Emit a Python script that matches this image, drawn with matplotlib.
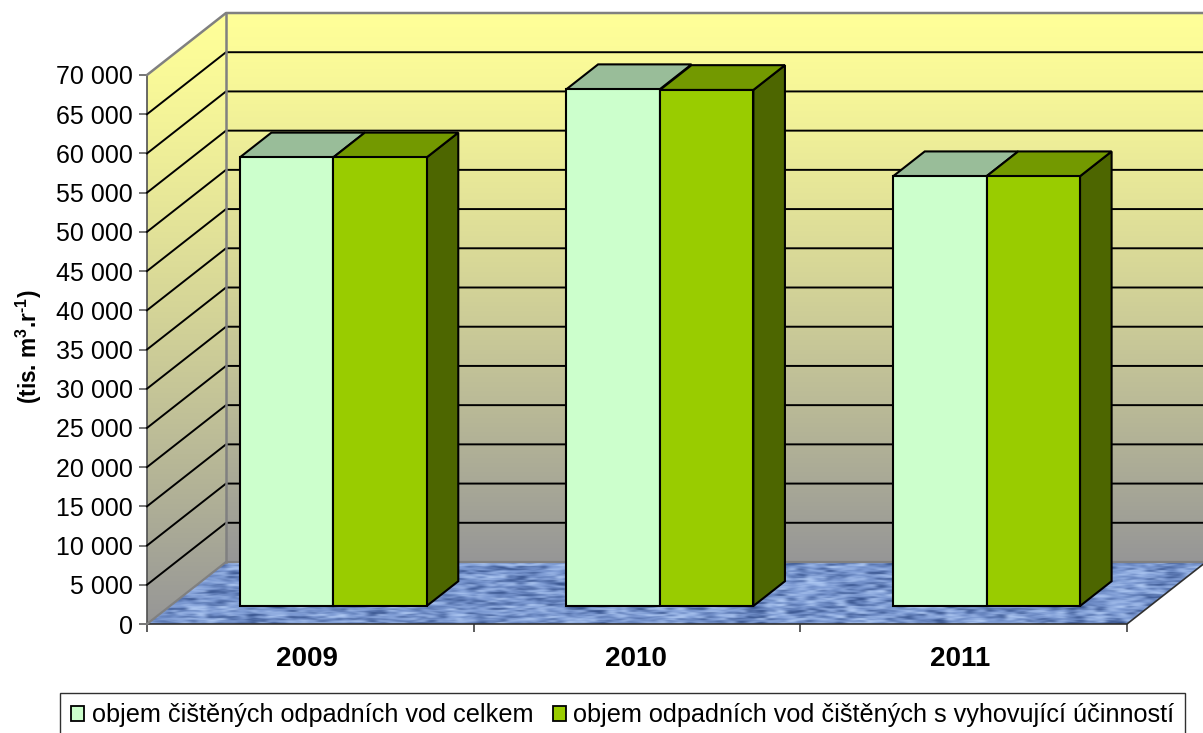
#!/usr/bin/env python
# coding: utf-8
import numpy as np
import matplotlib
matplotlib.use('Agg')
import matplotlib.pyplot as plt
from matplotlib.patches import Polygon, Patch

plt.rcParams['font.family'] = ['Liberation Sans', 'DejaVu Sans']
plt.rcParams['mathtext.fontset'] = 'custom'
plt.rcParams['mathtext.rm'] = 'Liberation Sans:bold'
plt.rcParams['mathtext.bf'] = 'Liberation Sans:bold'

years = ['2009', '2010', '2011']
total = [57200, 65900, 54800]
compliant = [57200, 65800, 54800]
y_ticks = list(range(0, 70001, 5000))
series_names = ['objem čištěných odpadních vod celkem',
                'objem odpadních vod čištěných s vyhovující účinností']

W, H = 1203, 733
DX = 79 / 980 * 3      # depth of the whole box in category units
DY = 62 / 549 * 70000  # depth of the whole box in value units
BAR_W = 0.286
GAP = (1 - 2 * BAR_W) / 2
D0, D1 = 0.29, 0.69    # front and back of the bars, as part of the depth


def pr(x, y, d=0.0):
    return (x + d * DX, y + d * DY)


def face(ax, pts, color, edge='black', lw=1.5, z=5):
    p = Polygon(pts, closed=True, facecolor=color, edgecolor=edge, lw=lw,
                clip_on=False, zorder=z, joinstyle='miter')
    ax.add_patch(p)
    return p


def clip_image(ax, im, pts):
    clip = Polygon(pts, closed=True, transform=ax.transData, fill=False, lw=0)
    ax.add_patch(clip)
    im.set_clip_box(ax.figure.bbox)
    im.set_clip_path(clip)


def gradient(ax, clip_pts, y_bot, y_top):
    t = np.linspace(0, 1, 256)[:, None] ** 1.25
    top = np.array([255, 255, 153]) / 255
    bot = np.array([150, 150, 150]) / 255
    img = (top + (bot - top) * t)[:, None, :]
    x0 = min(p[0] for p in clip_pts)
    x1 = max(p[0] for p in clip_pts)
    im = ax.imshow(img, extent=(x0, x1, y_bot, y_top), aspect='auto', zorder=1,
                   interpolation='bilinear')
    clip_image(ax, im, clip_pts)


def blotches(n_y, n_x, seed):
    # hashed cells, slanted a bit so the blotches lean like the fabric in the floor
    jj, ii = np.mgrid[0:n_y, 0:n_x]
    ii = ii + jj // 2
    h = np.sin(ii * 12.9898 + jj * 78.233 + seed) * 43758.5453
    return h - np.floor(h) - 0.5


def floor_texture():
    fine = blotches(62, 212, 0.0)
    mid = np.kron(blotches(31, 106, 3.1), np.ones((2, 2)))
    big = np.kron(blotches(16, 54, 7.7), np.ones((4, 4)))[:62, :212]
    v = np.clip(0.9 * fine + 1.1 * mid + 0.9 * big, -1, 1)[:, :, None]
    base = np.array([122, 152, 210]) / 255
    dark = np.array([52, 80, 138]) / 255
    light = np.array([178, 204, 245]) / 255
    return np.where(v < 0, base + (dark - base) * -v, base + (light - base) * v)


fig = plt.figure(figsize=(W / 100, H / 100), dpi=100)
ax = fig.add_axes([147 / W, (H - 624) / H, 980 / W, 549 / H])

# walls
back = [pr(0, 0, 1), pr(3, 0, 1), pr(3, 70000, 1), pr(0, 70000, 1)]
side = [pr(0, 0), pr(0, 0, 1), pr(0, 70000, 1), pr(0, 70000)]
gradient(ax, back, DY, 70000 + DY)
gradient(ax, side, 0, 70000 + DY)

# floor
floor = [pr(0, 0), pr(3, 0), pr(3, 0, 1), pr(0, 0, 1)]
im = ax.imshow(floor_texture(), extent=(0, 3 + DX, 0, DY), aspect='auto', zorder=2,
               interpolation='bicubic')
clip_image(ax, im, floor)
ax.plot(*zip(pr(0, 0), pr(3, 0), pr(3, 0, 1)), color='#303030', lw=1.2, zorder=3, clip_on=False)
ax.plot(*zip(pr(0, 0), pr(0, 0, 1), pr(3, 0, 1)), color='#808080', lw=1.6, zorder=3, clip_on=False)

# grid lines on both walls
for v in y_ticks[1:-1]:
    ax.plot(*zip(pr(0, v), pr(0, v, 1), pr(3, v, 1)), color='black', lw=1.4, zorder=3,
            clip_on=False)

# wall outline
ax.plot(*zip(pr(0, 70000), pr(0, 70000, 1), pr(3, 70000, 1)), color='#808080', lw=1.8,
        zorder=3, clip_on=False)
ax.plot(*zip(pr(0, 0, 1), pr(0, 70000, 1)), color='#808080', lw=1.8, zorder=3, clip_on=False)

# bars
for i in range(len(years)):
    x0 = i + GAP
    x1 = x0 + BAR_W
    x2 = x1 + BAR_W
    t1, t2 = total[i], compliant[i]
    # side of the dark bar first, then the tops and the fronts
    face(ax, [pr(x2, 0, D0), pr(x2, 0, D1), pr(x2, t2, D1), pr(x2, t2, D0)], '#4D6600')
    face(ax, [pr(x0, t1, D0), pr(x1, t1, D0), pr(x1, t1, D1), pr(x0, t1, D1)], '#99BD99')
    face(ax, [pr(x1, t2, D0), pr(x2, t2, D0), pr(x2, t2, D1), pr(x1, t2, D1)], '#739900')
    face(ax, [pr(x0, 0, D0), pr(x1, 0, D0), pr(x1, t1, D0), pr(x0, t1, D0)], '#CCFFCC')
    face(ax, [pr(x1, 0, D0), pr(x2, 0, D0), pr(x2, t2, D0), pr(x1, t2, D0)], '#99CC00')

ax.set_xlim(0, 3)
ax.set_ylim(0, 70000)
for s in ['top', 'right', 'bottom']:
    ax.spines[s].set_visible(False)
ax.spines['left'].set_color('#505050')
ax.spines['left'].set_linewidth(1.2)
ax.patch.set_visible(False)

ax.set_yticks(y_ticks)
ax.set_yticklabels([f'{v:,}'.replace(',', ' ') for v in y_ticks], fontsize=18)
ax.tick_params(axis='y', length=6, width=1.1, color='#505050', pad=4)
ax.set_xticks([0, 1, 2, 3])
ax.set_xticklabels([])
ax.tick_params(axis='x', which='major', length=6, width=1.1, color='#303030')
ax.set_xticks([0.49, 1.497, 2.49], minor=True)
ax.set_xticklabels(years, minor=True, fontsize=20, fontweight='bold')
ax.tick_params(axis='x', which='minor', length=0, pad=16)

fig.text(29 / W, 1 - 347 / H, r'(tis. m$^{\mathbf{3}}$.r$^{\text{-1}}$)', rotation=90,
         ha='center', va='center', fontsize=16.3, fontweight='bold')

handles = [Patch(facecolor='#CCFFCC', edgecolor='black', lw=1.3),
           Patch(facecolor='#99CC00', edgecolor='black', lw=1.3)]
leg = fig.legend(handles, series_names, ncol=2, loc='upper left',
                 bbox_to_anchor=(60 / W, 1 - 692.5 / H), fontsize=18.2, fancybox=False,
                 edgecolor='#303030', framealpha=1, handlelength=0.52, handleheight=0.52,
                 handletextpad=0.3, columnspacing=0.77, borderpad=0.43, borderaxespad=0)
leg.get_frame().set_linewidth(1.0)

plt.savefig('out.png', dpi=100)
